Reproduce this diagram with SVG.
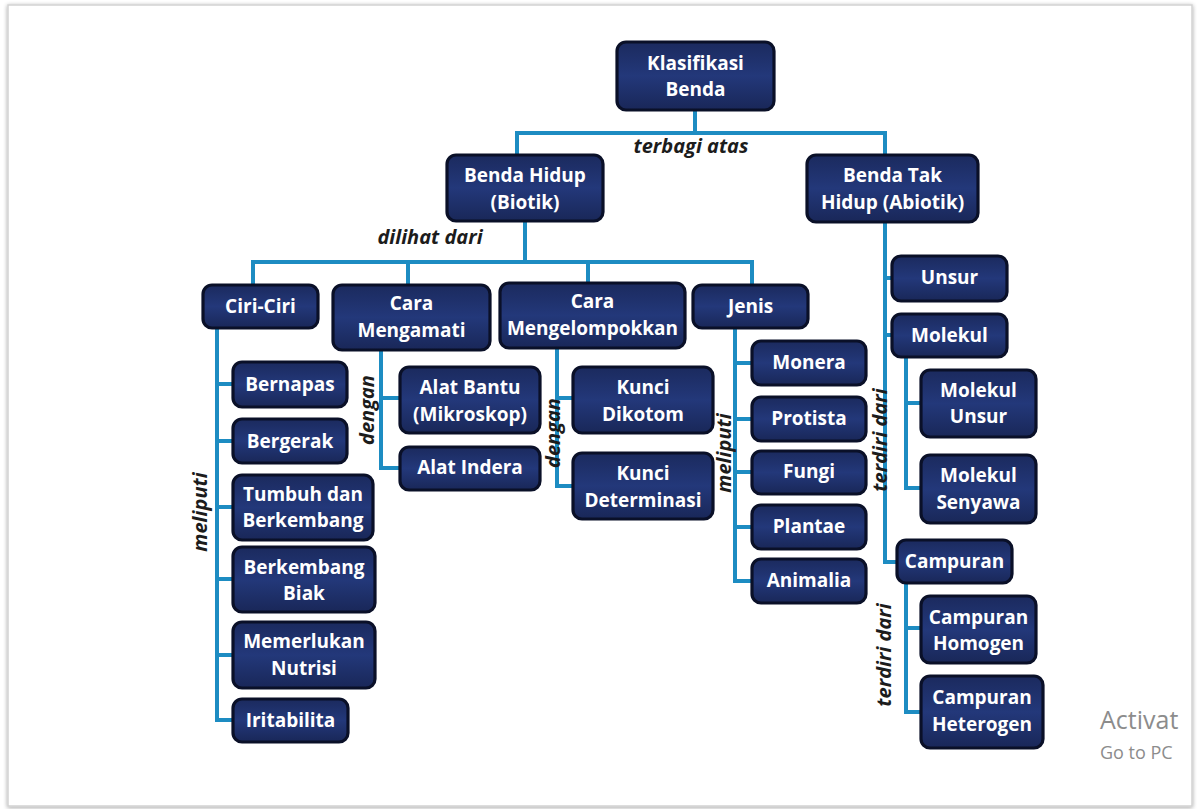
<svg xmlns="http://www.w3.org/2000/svg" width="1199" height="809" viewBox="0 0 1199 809">
  <defs>
    <linearGradient id="boxFill" x1="0" y1="0" x2="0" y2="1">
      <stop offset="0" stop-color="#1b2a5e"/>
      <stop offset="0.5" stop-color="#23387a"/>
      <stop offset="1" stop-color="#192758"/>
    </linearGradient>
    <filter id="pageShadow" x="-2%" y="-2%" width="104%" height="104%">
      <feGaussianBlur in="SourceAlpha" stdDeviation="2"/>
      <feOffset dx="0" dy="1"/>
      <feComponentTransfer><feFuncA type="linear" slope="0.35"/></feComponentTransfer>
      <feMerge><feMergeNode/><feMergeNode in="SourceGraphic"/></feMerge>
    </filter>
  </defs>
  <style>
    .box { fill: url(#boxFill); stroke: #0a1028; stroke-width: 3.2; }
    .lbl { font-family: "Open Sans", "Liberation Sans", sans-serif; font-weight: bold; font-size: 19px; fill: #ffffff; text-anchor: middle; }
    .rel { font-family: "Open Sans", "Liberation Sans", sans-serif; font-weight: bold; font-style: italic; font-size: 20px; fill: #1c1c1c; text-anchor: middle; }
    .wire { fill: none; stroke: #1d8cc2; stroke-width: 4; stroke-linejoin: miter; }
    .mark { font-family: "Open Sans", "Liberation Sans", sans-serif; fill: #8c8c8c; }
  </style>

  <!-- page -->
  <rect x="0" y="0" width="1199" height="809" fill="#ffffff"/>
  <rect x="8" y="5" width="1184" height="801" fill="#ffffff" stroke="#d2d2d2" stroke-width="1.5" filter="url(#pageShadow)"/>

  <!-- connectors -->
  <g id="connectors" class="wire">
    <path d="M695,110 V133"/>
    <path d="M517,155 V133 H885 V155"/>
    <path d="M525,221 V262"/>
    <path d="M253,285 V262 H752 V285"/>
    <path d="M408,262 V285"/>
    <path d="M588,262 V283"/>
    <!-- Ciri-Ciri -->
    <path d="M217,328 V720 H233"/>
    <path d="M217,384 H233 M217,441 H233 M217,507 H233 M217,579 H233 M217,655 H233"/>
    <!-- Cara Mengamati -->
    <path d="M381,350 V468 H400 M381,398 H400"/>
    <!-- Cara Mengelompokkan -->
    <path d="M557,348 V486 H573 M557,398 H573"/>
    <!-- Jenis -->
    <path d="M735,328 V581 H752 M735,363 H752 M735,419 H752 M735,472 H752 M735,527 H752"/>
    <!-- Benda Tak Hidup -->
    <path d="M885,222 V562 H897 M885,278 H892 M885,335 H892"/>
    <path d="M906,357 V488 H921 M906,403 H921"/>
    <path d="M906,583 V712 H921 M906,628 H921"/>
  </g>

  <!-- relation labels -->
  <g id="relations">
    <text class="rel" x="691" y="153">terbagi atas</text>
    <text class="rel" x="430" y="244">dilihat dari</text>
    <text class="rel" transform="translate(207,512) rotate(-90)">meliputi</text>
    <text class="rel" transform="translate(374,410) rotate(-90)">dengan</text>
    <text class="rel" transform="translate(560,433) rotate(-90)">dengan</text>
    <text class="rel" transform="translate(731,453) rotate(-90)">meliputi</text>
    <text class="rel" transform="translate(887,440) rotate(-90)">terdiri dari</text>
    <text class="rel" transform="translate(891,655) rotate(-90)">terdiri dari</text>
  </g>

  <!-- nodes -->
  <g id="n-klasifikasi"><rect class="box" x="617" y="42" width="157" height="68" rx="9"/>
    <text class="lbl" x="695.5" y="70">Klasifikasi</text><text class="lbl" x="695.5" y="96">Benda</text></g>
  <g id="n-benda-hidup"><rect class="box" x="447" y="155" width="156" height="66" rx="9"/>
    <text class="lbl" x="525" y="182">Benda Hidup</text><text class="lbl" x="525" y="209">(Biotik)</text></g>
  <g id="n-benda-tak-hidup"><rect class="box" x="807" y="155" width="171" height="67" rx="9"/>
    <text class="lbl" x="892.5" y="182">Benda Tak</text><text class="lbl" x="892.5" y="209">Hidup (Abiotik)</text></g>

  <g id="n-ciri"><rect class="box" x="203" y="285" width="115" height="43" rx="9"/>
    <text class="lbl" x="260.5" y="313">Ciri-Ciri</text></g>
  <g id="n-mengamati"><rect class="box" x="333" y="285" width="157" height="65" rx="9"/>
    <text class="lbl" x="411.5" y="310">Cara</text><text class="lbl" x="411.5" y="337">Mengamati</text></g>
  <g id="n-mengelompokkan"><rect class="box" x="500" y="283" width="185" height="65" rx="9"/>
    <text class="lbl" x="592.5" y="308">Cara</text><text class="lbl" x="592.5" y="335">Mengelompokkan</text></g>
  <g id="n-jenis"><rect class="box" x="693" y="285" width="115" height="43" rx="9"/>
    <text class="lbl" x="750.5" y="313">Jenis</text></g>

  <g id="n-bernapas"><rect class="box" x="233" y="362" width="114" height="45" rx="9"/>
    <text class="lbl" x="290" y="391">Bernapas</text></g>
  <g id="n-bergerak"><rect class="box" x="233" y="419" width="114" height="44" rx="9"/>
    <text class="lbl" x="290" y="448">Bergerak</text></g>
  <g id="n-tumbuh"><rect class="box" x="233" y="475" width="140" height="65" rx="9"/>
    <text class="lbl" x="303" y="501">Tumbuh dan</text><text class="lbl" x="303" y="527">Berkembang</text></g>
  <g id="n-berkembang-biak"><rect class="box" x="233" y="547" width="142" height="65" rx="9"/>
    <text class="lbl" x="304" y="574">Berkembang</text><text class="lbl" x="304" y="600">Biak</text></g>
  <g id="n-nutrisi"><rect class="box" x="233" y="622" width="142" height="66" rx="9"/>
    <text class="lbl" x="304" y="648">Memerlukan</text><text class="lbl" x="304" y="675">Nutrisi</text></g>
  <g id="n-iritabilita"><rect class="box" x="233" y="699" width="115" height="43" rx="9"/>
    <text class="lbl" x="290.5" y="727">Iritabilita</text></g>

  <g id="n-alat-bantu"><rect class="box" x="400" y="367" width="140" height="66" rx="9"/>
    <text class="lbl" x="470" y="394">Alat Bantu</text><text class="lbl" x="470" y="421">(Mikroskop)</text></g>
  <g id="n-alat-indera"><rect class="box" x="400" y="447" width="140" height="43" rx="9"/>
    <text class="lbl" x="470" y="474">Alat Indera</text></g>

  <g id="n-dikotom"><rect class="box" x="573" y="367" width="140" height="66" rx="9"/>
    <text class="lbl" x="643" y="394">Kunci</text><text class="lbl" x="643" y="421">Dikotom</text></g>
  <g id="n-determinasi"><rect class="box" x="573" y="453" width="140" height="66" rx="9"/>
    <text class="lbl" x="643" y="480">Kunci</text><text class="lbl" x="643" y="507">Determinasi</text></g>

  <g id="n-monera"><rect class="box" x="752" y="341" width="114" height="44" rx="9"/>
    <text class="lbl" x="809" y="369">Monera</text></g>
  <g id="n-protista"><rect class="box" x="752" y="397" width="114" height="44" rx="9"/>
    <text class="lbl" x="809" y="425">Protista</text></g>
  <g id="n-fungi"><rect class="box" x="752" y="451" width="114" height="43" rx="9"/>
    <text class="lbl" x="809" y="478">Fungi</text></g>
  <g id="n-plantae"><rect class="box" x="752" y="505" width="114" height="44" rx="9"/>
    <text class="lbl" x="809" y="533">Plantae</text></g>
  <g id="n-animalia"><rect class="box" x="752" y="559" width="114" height="44" rx="9"/>
    <text class="lbl" x="809" y="587">Animalia</text></g>

  <g id="n-unsur"><rect class="box" x="892" y="256" width="115" height="45" rx="9"/>
    <text class="lbl" x="949.5" y="284">Unsur</text></g>
  <g id="n-molekul"><rect class="box" x="892" y="314" width="115" height="43" rx="9"/>
    <text class="lbl" x="949.5" y="342">Molekul</text></g>
  <g id="n-molekul-unsur"><rect class="box" x="921" y="370" width="115" height="67" rx="9"/>
    <text class="lbl" x="978.5" y="397">Molekul</text><text class="lbl" x="978.5" y="423">Unsur</text></g>
  <g id="n-molekul-senyawa"><rect class="box" x="921" y="455" width="115" height="68" rx="9"/>
    <text class="lbl" x="978.5" y="482">Molekul</text><text class="lbl" x="978.5" y="509">Senyawa</text></g>
  <g id="n-campuran"><rect class="box" x="897" y="540" width="115" height="43" rx="9"/>
    <text class="lbl" x="954.5" y="568">Campuran</text></g>
  <g id="n-campuran-homogen"><rect class="box" x="921" y="596" width="115" height="67" rx="9"/>
    <text class="lbl" x="978.5" y="624">Campuran</text><text class="lbl" x="978.5" y="650">Homogen</text></g>
  <g id="n-campuran-heterogen"><rect class="box" x="921" y="676" width="122" height="72" rx="9"/>
    <text class="lbl" x="982" y="704">Campuran</text><text class="lbl" x="982" y="731">Heterogen</text></g>

  <!-- system watermark -->
  <g id="watermark">
    <text class="mark" x="1100" y="729" font-size="25">Activat</text>
    <text class="mark" x="1100" y="759" font-size="18">Go to PC</text>
  </g>
</svg>
